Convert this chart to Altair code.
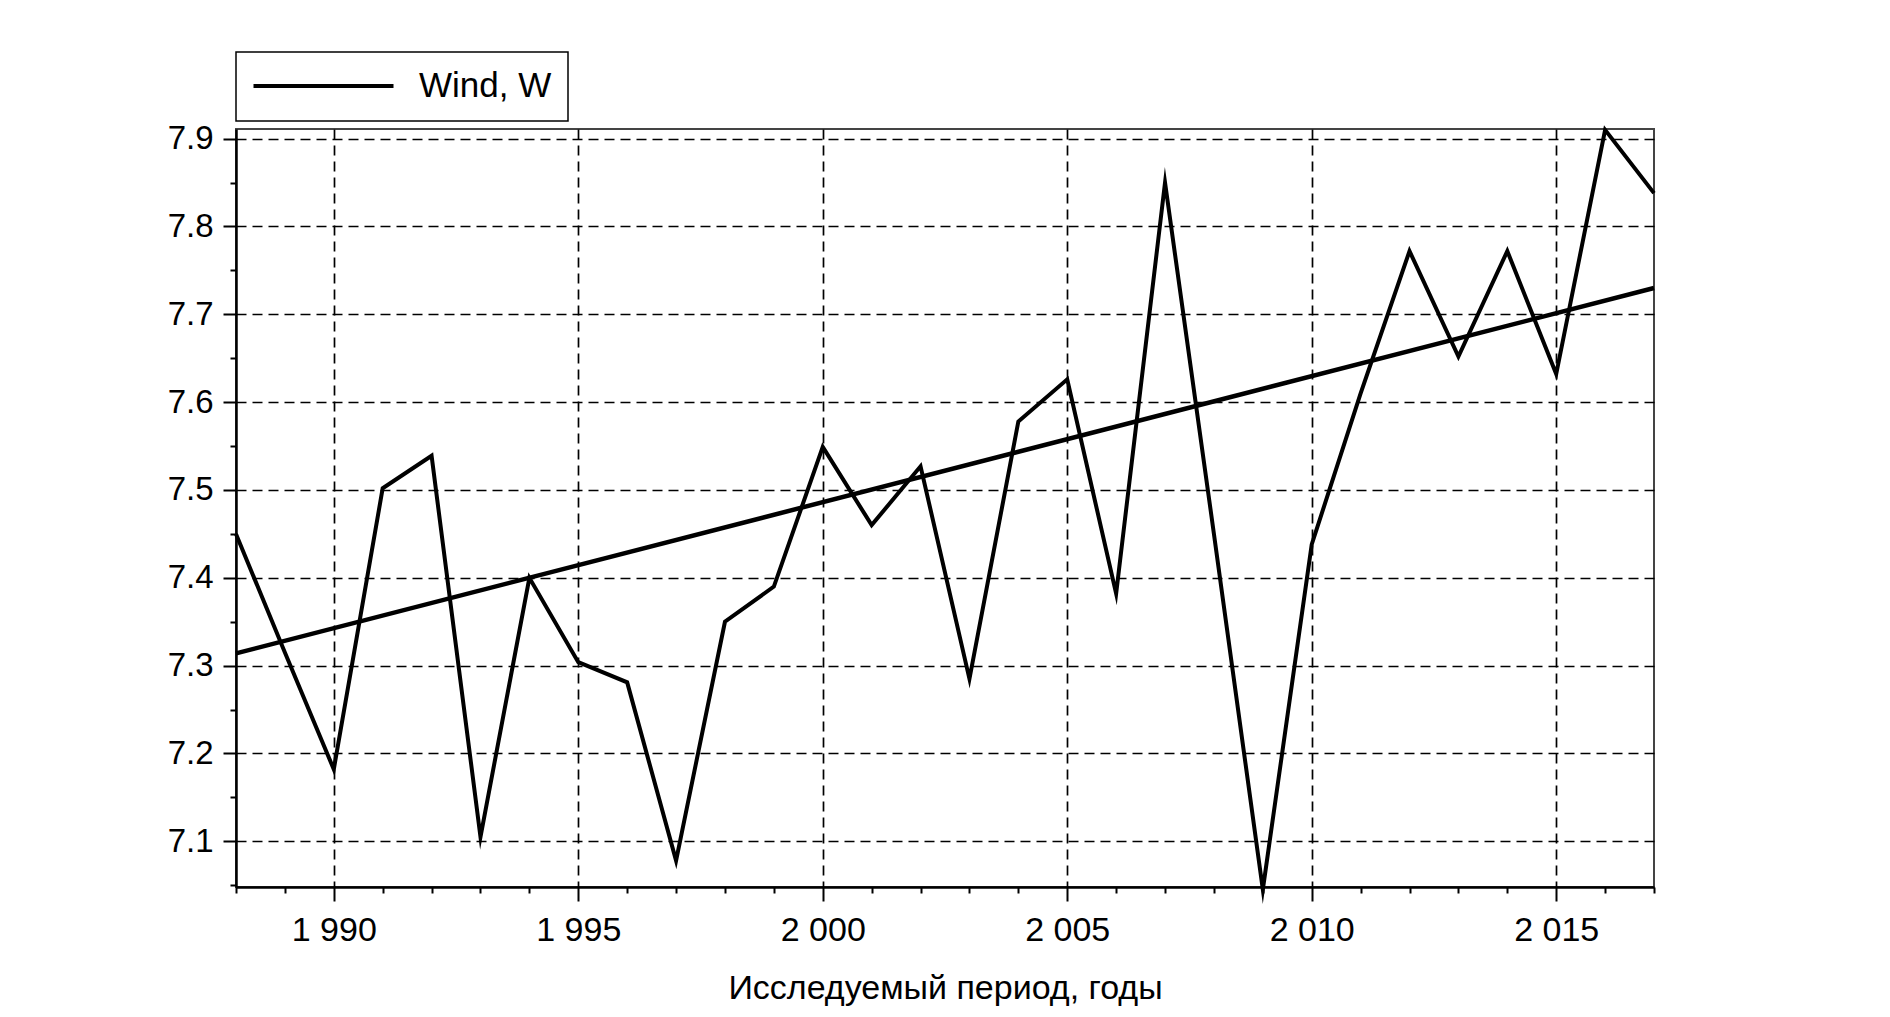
import altair as alt
import pandas as pd

# ---- data ----
years = [1988, 1989, 1990, 1991, 1992, 1993, 1994, 1995, 1996, 1997,
         1998, 1999, 2000, 2001, 2002, 2003, 2004, 2005, 2006, 2007,
         2008, 2009, 2010, 2011, 2012, 2013, 2014, 2015, 2016, 2017]
wind = [7.45, 7.315, 7.182, 7.502, 7.539, 7.105, 7.40, 7.304, 7.281, 7.078,
        7.35, 7.39, 7.549, 7.46, 7.527, 7.285, 7.578, 7.626, 7.382, 7.85,
        7.45, 7.045, 7.438, 7.61, 7.772, 7.652, 7.772, 7.632, 7.91, 7.838]
series_name = "Wind, W"

trend_years = [1988, 2017]
trend_values = [7.314, 7.730]

x_ticks = [1988, 1989, 1990, 1991, 1992, 1993, 1994, 1995, 1996, 1997,
           1998, 1999, 2000, 2001, 2002, 2003, 2004, 2005, 2006, 2007,
           2008, 2009, 2010, 2011, 2012, 2013, 2014, 2015, 2016, 2017]
y_ticks = [7.05, 7.1, 7.15, 7.2, 7.25, 7.3, 7.35, 7.4, 7.45, 7.5,
           7.55, 7.6, 7.65, 7.7, 7.75, 7.8, 7.85, 7.9]
x_domain = [1988, 2017]
y_domain = [7.048, 7.911]
x_title = "Исследуемый период, годы"

df = pd.DataFrame({"year": years, "value": wind, "series": series_name})
tdf = pd.DataFrame({"year": trend_years, "value": trend_values})

FONT = "Liberation Sans"
x_major = "datum.value % 5 === 0"
y_major = "abs(datum.value * 10 - round(datum.value * 10)) < 0.001"

x_enc = alt.X(
    "year:Q",
    scale=alt.Scale(domain=x_domain, nice=False, zero=False),
    axis=alt.Axis(
        values=x_ticks,
        title=x_title,
        labelExpr="datum.value % 5 === 0 ? replace(format(datum.value, ','), ',', ' ') : ''",
        tickSize={"condition": {"test": x_major, "value": 14}, "value": 6},
        gridOpacity={"condition": {"test": x_major, "value": 1}, "value": 0},
        labelPadding=12,
        labelFontSize=34,
        titleFontSize=34,
        titlePadding=24,
        labelFlush=False,
    ),
)
y_enc = alt.Y(
    "value:Q",
    scale=alt.Scale(domain=y_domain, nice=False, zero=False),
    axis=alt.Axis(
        values=y_ticks,
        title=None,
        labelExpr="abs(datum.value * 10 - round(datum.value * 10)) < 0.001 ? format(datum.value, '.1f') : ''",
        tickSize={"condition": {"test": y_major, "value": 13}, "value": 6},
        gridOpacity={"condition": {"test": y_major, "value": 1}, "value": 0},
        labelPadding=10,
        labelFontSize=33,
        labelFlush=False,
    ),
)

line = alt.Chart(df).mark_line(
    strokeWidth=4.0, strokeJoin="miter", strokeMiterLimit=12
).encode(
    x=x_enc,
    y=y_enc,
    stroke=alt.Stroke(
        "series:N",
        scale=alt.Scale(range=["black"]),
        legend=alt.Legend(
            title=None,
            orient="none",
            legendX=0,
            legendY=-77,
            strokeColor="black",
            padding=16.5,
            symbolType="M-1.65,0L12.35,0",
            symbolSize=400,
            symbolStrokeWidth=4.0,
            labelFontSize=35,
            labelFont=FONT,
            labelOffset=131.5,
            labelColor="black",
        ),
    ),
)

trend = alt.Chart(tdf).mark_line(strokeWidth=4.5, color="black").encode(
    x=alt.X("year:Q"),
    y=alt.Y("value:Q"),
)

chart = alt.layer(line, trend).properties(
    width=1418,
    height=758,
    padding={"left": 228, "top": 121, "right": 200, "bottom": 124},
    autosize=alt.AutoSizeParams(type="none"),
).configure_view(
    stroke="#444", strokeWidth=2
).configure_axis(
    domainColor="black",
    domainWidth=2.5,
    tickColor="black",
    tickWidth=2,
    labelFont=FONT,
    labelColor="black",
    titleFont=FONT,
    titleColor="black",
    titleFontWeight="normal",
    gridColor="black",
    gridDash=[10, 6],
    gridWidth=1.7,
).configure_legend(
    strokeWidth=1.5
)

chart.save("out.html", embed_options={"renderer": "svg", "actions": False})
